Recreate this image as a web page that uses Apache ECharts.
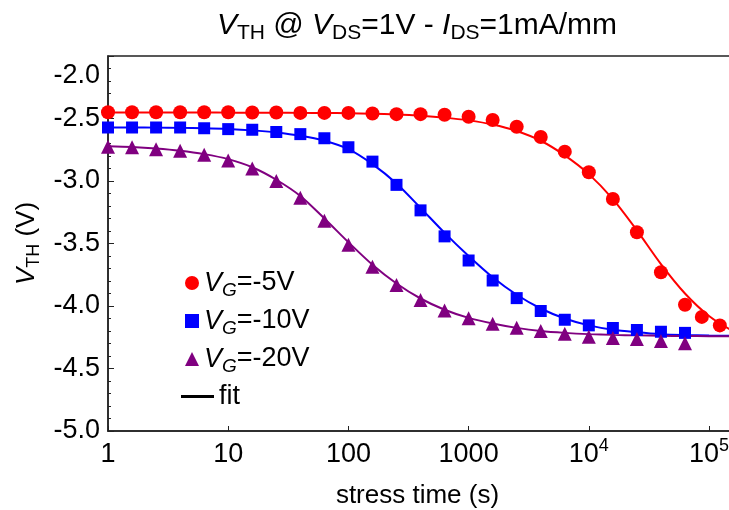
<!DOCTYPE html>
<html>
<head>
<meta charset="utf-8">
<script src="https://cdn.jsdelivr.net/npm/echarts@6/dist/echarts.min.js"></script>
<style>
  html, body { margin: 0; padding: 0; background: #fff; }
  #chart { width: 729px; height: 510px; }
</style>
</head>
<body>
<div id="chart"></div>
<script>
const FONT = '"Liberation Sans", Arial, Helvetica, sans-serif';

// Stress times (s) of the measured points
const timesVg5 = [1, 1.585, 2.512, 3.981, 6.31, 10, 15.85, 25.12, 39.81, 63.1, 100, 158.5, 251.2, 398.1, 631,
  1000, 1585, 2512, 3981, 6310, 10000, 15850, 25120, 39810, 63100, 87100, 123000];
const timesVg10 = [1, 1.585, 2.512, 3.981, 6.31, 10, 15.85, 25.12, 39.81, 63.1, 100, 158.5, 251.2, 398.1, 631,
  1000, 1585, 2512, 3981, 6310, 10000, 15850, 25120, 39810, 63100];
const timesVg20 = [1, 1.585, 2.512, 3.981, 6.31, 10, 15.85, 25.12, 39.81, 63.1, 100, 158.5, 251.2, 398.1, 631,
  1000, 1585, 2512, 3981, 6310, 10000, 15850, 25120, 39810, 63100];

// Threshold voltage (V) measured at each stress time
const vthVg5 = [-2.45, -2.45, -2.45, -2.45, -2.45, -2.45, -2.452, -2.452, -2.455, -2.455, -2.455, -2.46, -2.465,
  -2.465, -2.47, -2.486, -2.512, -2.566, -2.648, -2.765, -2.93, -3.144, -3.41, -3.73, -3.99, -4.087, -4.155];
const vthVg10 = [-2.572, -2.572, -2.572, -2.572, -2.578, -2.585, -2.59, -2.608, -2.625, -2.658, -2.73, -2.845,
  -3.031, -3.235, -3.443, -3.636, -3.796, -3.937, -4.04, -4.11, -4.155, -4.176, -4.192, -4.206, -4.215];
const vthVg20 = [-2.726, -2.73, -2.745, -2.758, -2.79, -2.835, -2.9, -3.0, -3.133, -3.317, -3.51, -3.686, -3.832,
  -3.952, -4.035, -4.097, -4.141, -4.173, -4.2, -4.221, -4.245, -4.255, -4.264, -4.28, -4.297];

// Fitted curves, sampled along the time axis
const fitTimes = [1, 1.585, 2.512, 3.981, 6.31, 10, 15.85, 25.12, 39.81, 63.1, 100, 158.5, 251.2, 398.1, 631,
  1000, 1585, 2512, 3981, 6310, 10000, 15850, 25120, 39810, 63100, 100000, 158500, 199500];
const fitVg5 = [-2.452, -2.452, -2.452, -2.452, -2.452, -2.453, -2.453, -2.454, -2.455, -2.456, -2.458, -2.462,
  -2.468, -2.478, -2.493, -2.515, -2.548, -2.6, -2.678, -2.795, -2.945, -3.145, -3.395, -3.665, -3.9, -4.08,
  -4.2, -4.235];
const fitVg10 = [-2.572, -2.572, -2.573, -2.575, -2.578, -2.584, -2.595, -2.612, -2.638, -2.678, -2.745, -2.865,
  -3.02, -3.215, -3.415, -3.6, -3.77, -3.91, -4.02, -4.1, -4.155, -4.19, -4.21, -4.225, -4.232, -4.236, -4.239,
  -4.24];
const fitVg20 = [-2.722, -2.728, -2.74, -2.758, -2.785, -2.825, -2.89, -2.99, -3.12, -3.3, -3.49, -3.67, -3.82,
  -3.94, -4.03, -4.095, -4.14, -4.175, -4.2, -4.215, -4.225, -4.231, -4.235, -4.238, -4.24, -4.241, -4.242,
  -4.243];

// Axis tick labels
const xTickLabels = ['1', '10', '100', '1000', '10{sup|4}', '10{sup|5}'];
const seriesNames = ['VG=-5V', 'VG=-10V', 'VG=-20V'];
const legendLabels = ['{i|V}{s|G}=-5V', '{i|V}{s|G}=-10V', '{i|V}{s|G}=-20V'];

const RED = '#ff0000', BLUE = '#0000ff', PURPLE = '#800080', AXIS = '#222';

const pairs = (xs, ys) => xs.map((x, i) => [x, ys[i]]);

const chart = echarts.init(document.getElementById('chart'), null, { renderer: 'canvas' });

const fitLine = (name, color, ys) => ({
  name: name, type: 'line', data: pairs(fitTimes, ys), smooth: 0.3, symbol: 'none',
  lineStyle: { color: color, width: 2 }, itemStyle: { color: color }, z: 2, silent: true
});
const scatter = (name, color, symbol, size, xs, ys) => ({
  name: name, type: 'scatter', data: pairs(xs, ys), symbol: symbol, symbolSize: size,
  itemStyle: { color: color, opacity: 1 }, z: 3, silent: true
});

chart.setOption({
  animation: false,
  backgroundColor: '#fff',
  textStyle: { fontFamily: FONT },
  title: {
    text: '{i|V}{s|TH} @ {i|V}{s|DS}=1V - {i|I}{s|DS}=1mA/mm',
    left: 412, top: 2, textAlign: 'center',
    textStyle: {
      fontFamily: FONT, fontSize: 30, fontWeight: 'normal', color: '#000', lineHeight: 37,
      rich: {
        i: { fontFamily: FONT, fontSize: 30, fontStyle: 'italic', color: '#000', lineHeight: 37 },
        s: { fontFamily: FONT, fontSize: 21, color: '#000', lineHeight: 21, verticalAlign: 'bottom' }
      }
    }
  },
  grid: { left: 108, right: -12, top: 56, bottom: 79, show: true, borderColor: AXIS, borderWidth: 1.5,
    containLabel: false, outerBoundsMode: 'none' },
  legend: [{
    data: [
      { name: seriesNames[0], icon: 'circle' },
      { name: seriesNames[1], icon: 'rect' },
      { name: seriesNames[2], icon: 'triangle' }
    ],
    orient: 'vertical', left: 180, top: 261, itemWidth: 14, itemHeight: 14, itemGap: 4,
    formatter: name => legendLabels[seriesNames.indexOf(name)],
    selectedMode: false,
    textStyle: {
      fontFamily: FONT, fontSize: 27, color: '#000', lineHeight: 34,
      rich: {
        i: { fontFamily: FONT, fontSize: 27, fontStyle: 'italic', color: '#000', lineHeight: 34 },
        s: { fontFamily: FONT, fontSize: 19, fontStyle: 'italic', color: '#000', lineHeight: 19, verticalAlign: 'bottom' }
      }
    }
  }, {
    data: [{ name: 'fit', icon: 'rect' }], orient: 'vertical', left: 176, top: 378, itemWidth: 33, itemHeight: 3,
    selectedMode: false,
    textStyle: { fontFamily: FONT, fontSize: 27, color: '#000' }
  }],
  xAxis: {
    type: 'log', logBase: 10, min: 1, max: 184500, splitNumber: 5,
    axisLine: { show: true, lineStyle: { color: AXIS, width: 1.5 } },
    axisTick: { show: true, inside: true, length: 5, lineStyle: { color: AXIS, width: 1 } },
    minorTick: { show: false },
    splitLine: { show: false },
    axisLabel: {
      showMaxLabel: false, margin: 6, color: '#000', fontFamily: FONT, fontSize: 27, lineHeight: 36,
      formatter: v => {
        const k = Math.round(Math.log10(v));
        return xTickLabels[k] !== undefined ? xTickLabels[k] : '';
      },
      rich: { sup: { fontFamily: FONT, fontSize: 18, color: '#000', lineHeight: 16, verticalAlign: 'top' } }
    },
    name: 'stress time (s)', nameLocation: 'middle', nameGap: 52,
    nameTextStyle: { fontFamily: FONT, fontSize: 26, color: '#000', padding: [0, 14, 0, 0] }
  },
  yAxis: {
    type: 'value', min: -5, max: -2, interval: 0.5,
    axisLine: { show: true, lineStyle: { color: AXIS, width: 1.5 } },
    axisTick: { show: true, inside: true, length: 6, lineStyle: { color: AXIS, width: 1 } },
    minorTick: { show: true, splitNumber: 5, length: 3, lineStyle: { color: AXIS, width: 1 } },
    splitLine: { show: false },
    axisLabel: {
      margin: 8, color: '#000', fontFamily: FONT, fontSize: 27,
      // the top label sits a little below its tick, clear of the title
      formatter: v => (v === -2 ? '{top|' + v.toFixed(1) + '}' : v.toFixed(1)),
      rich: { top: { fontFamily: FONT, fontSize: 27, color: '#000', padding: [40, 0, 0, 0] } }
    },
    name: '{i|V}{s|TH} (V)', nameLocation: 'middle', nameGap: 64, nameRotate: 90,
    nameTextStyle: {
      fontFamily: FONT, fontSize: 26, color: '#000', lineHeight: 32,
      rich: {
        i: { fontFamily: FONT, fontSize: 26, fontStyle: 'italic', color: '#000', lineHeight: 32 },
        s: { fontFamily: FONT, fontSize: 18, color: '#000', lineHeight: 18, verticalAlign: 'bottom' }
      }
    }
  },
  series: [
    fitLine('fit-5', RED, fitVg5),
    fitLine('fit-10', BLUE, fitVg10),
    fitLine('fit-20', PURPLE, fitVg20),
    { name: 'fit', type: 'line', data: [], symbol: 'none', lineStyle: { color: '#000', width: 3 }, itemStyle: { color: '#000' } },
    scatter(seriesNames[0], RED, 'circle', 14, timesVg5, vthVg5),
    scatter(seriesNames[1], BLUE, 'rect', 12, timesVg10, vthVg10),
    scatter(seriesNames[2], PURPLE, 'triangle', 14, timesVg20, vthVg20)
  ]
});
</script>
</body>
</html>
